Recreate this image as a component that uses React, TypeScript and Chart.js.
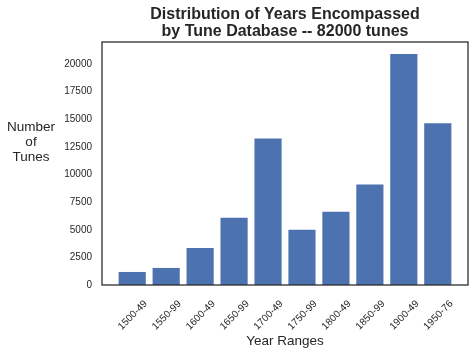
import React, { useEffect, useRef } from "react";
import { Chart, registerables } from "chart.js";

Chart.register(...registerables);

const categories = [
  "1500-49",
  "1550-99",
  "1600-49",
  "1650-99",
  "1700-49",
  "1750-99",
  "1800-49",
  "1850-99",
  "1900-49",
  "1950-76",
];
const tuneCounts = [1180, 1545, 3360, 6090, 13270, 5000, 6640, 9090, 20910, 14640];
const yTicks = [0, 2500, 5000, 7500, 10000, 12500, 15000, 17500, 20000];
const titleLines = ["Distribution of Years Encompassed", "by Tune Database -- 82000 tunes"];
const yLabelLines = ["Number", "of", "Tunes"];
const xLabel = "Year Ranges";

const FONT = "'Liberation Sans', Arial, sans-serif";
const TEXT = "#262626";
const BAR = "#4c72b0";
const LABEL_SHIFT = 0.4;

const framePlugin = {
  id: "frame",
  afterDraw(chart: any) {
    const { ctx, chartArea } = chart;
    ctx.save();
    ctx.strokeStyle = TEXT;
    ctx.lineWidth = 1.25;
    ctx.strokeRect(chartArea.left, chartArea.top, chartArea.right - chartArea.left, chartArea.bottom - chartArea.top);
    ctx.restore();
  },
};

const yLabelPlugin = {
  id: "yLabel",
  afterDraw(chart: any) {
    const { ctx } = chart;
    ctx.save();
    ctx.fillStyle = TEXT;
    ctx.font = `13.5px ${FONT}`;
    ctx.textAlign = "center";
    ctx.textBaseline = "middle";
    yLabelLines.forEach((t, i) => ctx.fillText(t, 31, 127 + i * 15));
    ctx.restore();
  },
};

export default function App() {
  const ref = useRef<HTMLCanvasElement>(null);
  useEffect(() => {
    document.body.style.margin = "0";
    const chart = new Chart(ref.current as HTMLCanvasElement, {
      type: "bar",
      data: {
        datasets: [
          {
            data: categories.map((_, i) => ({ x: i, y: tuneCounts[i] })) as any,
            backgroundColor: BAR,
            borderWidth: 0,
            barPercentage: 0.8,
            categoryPercentage: 1,
          },
        ],
      },
      options: {
        responsive: false,
        animation: false,
        layout: { padding: { left: 0, right: 7, top: 0, bottom: 0 } },
        plugins: {
          legend: { display: false },
          tooltip: { enabled: false },
          title: {
            display: true,
            text: titleLines,
            fullSize: false,
            color: TEXT,
            font: { family: FONT, size: 16, weight: "bold", lineHeight: 1.05 },
            padding: { top: 6, bottom: 2.4 },
          },
        },
        scales: {
          x: {
            type: "linear",
            offset: false,
            min: -0.89,
            max: 9.89,
            grid: { display: false, offset: false, drawTicks: false },
            border: { display: false },
            afterBuildTicks: (s: any) => {
              s.ticks = categories.map((_, i) => ({ value: i + LABEL_SHIFT }));
            },
            afterFit: (s: any) => {
              s.height = 70;
            },
            ticks: {
              autoSkip: false,
              minRotation: 45,
              maxRotation: 45,
              padding: 13,
              color: TEXT,
              font: { family: FONT, size: 10 },
              callback: (v: any) => categories[Math.round(Number(v) - LABEL_SHIFT)],
            },
            title: {
              display: true,
              text: xLabel,
              color: TEXT,
              font: { family: FONT, size: 13.5 },
              padding: { top: 0, bottom: 6 },
            },
          },
          y: {
            min: 0,
            max: 22000,
            grid: { display: false, drawTicks: false },
            border: { display: false },
            afterBuildTicks: (s: any) => {
              s.ticks = yTicks.map((v) => ({ value: v }));
            },
            afterFit: (s: any) => {
              s.width = 102;
            },
            ticks: {
              padding: 10,
              color: TEXT,
              font: { family: FONT, size: 10 },
              callback: (v: any) => String(v),
            },
          },
        },
      },
      plugins: [framePlugin, yLabelPlugin],
    } as any);
    return () => chart.destroy();
  }, []);
  return <canvas ref={ref} width={475} height={355} style={{ display: "block" }} />;
}
